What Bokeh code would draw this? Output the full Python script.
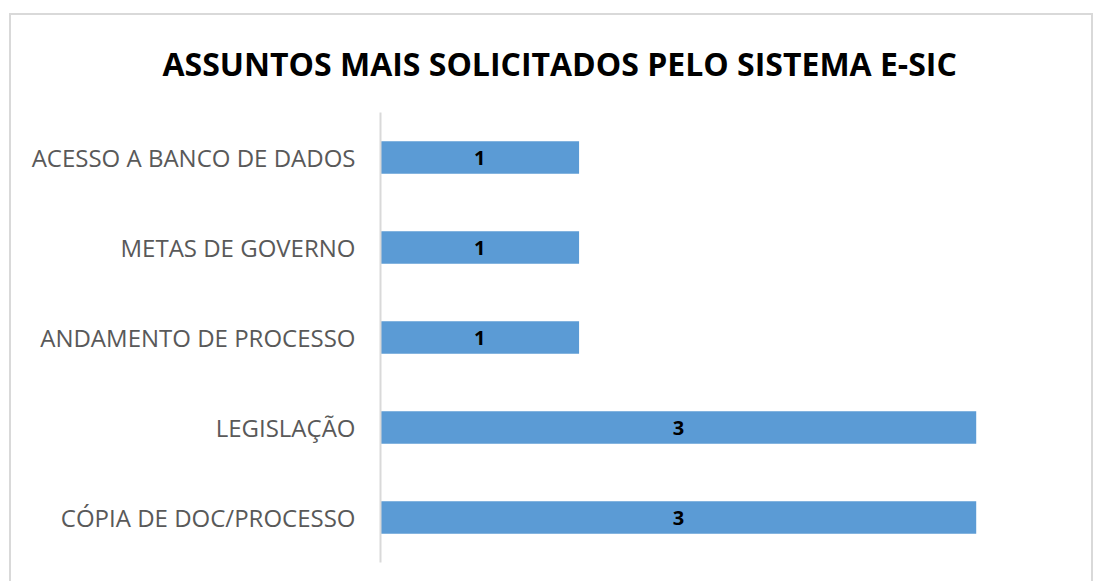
from bokeh.plotting import figure
from bokeh.models import ColumnDataSource, FactorRange, Range1d, Title
from bokeh.core.properties import value
from bokeh.embed import file_html
from bokeh.resources import INLINE

title_text = "ASSUNTOS MAIS SOLICITADOS PELO SISTEMA E-SIC"
categories = [
    "CÓPIA DE DOC/PROCESSO",
    "LEGISLAÇÃO",
    "ANDAMENTO DE PROCESSO",
    "METAS DE GOVERNO",
    "ACESSO A BANCO DE DADOS",
]
counts = [3, 3, 1, 1, 1]

FONT = "Open Sans"

src = ColumnDataSource(dict(
    cat=categories,
    val=counts,
    mid=[v / 2 for v in counts],
    lbl=[str(v) for v in counts],
))

p = figure(
    width=1084, height=570,
    y_range=FactorRange(factors=categories, range_padding=0),
    x_range=Range1d(0, 3.5),
    output_backend="svg", toolbar_location=None,
    min_border_left=369, min_border_right=20,
    min_border_top=97, min_border_bottom=23,
    outline_line_color=None,
    background_fill_color="white", border_fill_color="white",
    styles={"border": "2px solid #d9d9d9", "margin-left": "9px", "margin-top": "13px"},
)

t = Title(text=title_text, align="left", offset=-218, vertical_align="top",
          text_font=FONT, text_font_size="32px", text_font_style="bold",
          text_color="#000000", standoff=51)
p.add_layout(t, "above")

p.hbar(y="cat", left=0, right="val", height=0.36, source=src,
       fill_color="#5B9BD5", line_color=None)
p.text(x="mid", y="cat", text="lbl", source=src,
       text_font=value(FONT), text_font_size="20px", text_font_style="bold",
       text_color="#000000", text_align="center", text_baseline="middle")

p.xaxis.visible = False
p.xgrid.grid_line_color = None
p.ygrid.grid_line_color = None

ya = p.yaxis[0]
ya.axis_line_color = "#d9d9d9"
ya.axis_line_width = 2
ya.major_tick_line_color = None
ya.minor_tick_line_color = None
ya.major_tick_out = 0
ya.major_tick_in = 0
ya.major_label_standoff = 25
ya.major_label_text_font = FONT
ya.major_label_text_font_size = "24px"
ya.major_label_text_color = "#595959"

open("out.html", "w").write(file_html(p, INLINE))
